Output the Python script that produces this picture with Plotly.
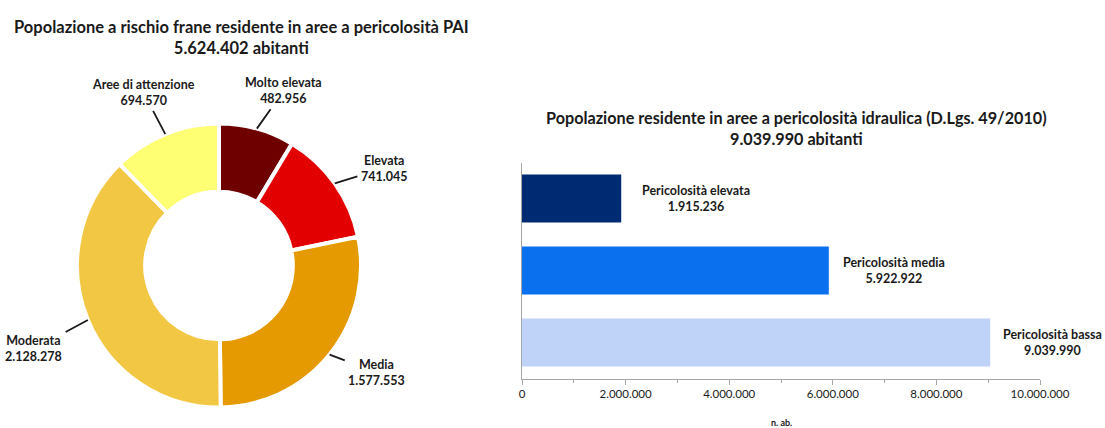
import math
import plotly.graph_objects as go

# ---- data ----
pie_labels = ["Molto elevata", "Elevata", "Media", "Moderata", "Aree di attenzione"]
pie_values = [482956, 741045, 1577553, 2128278, 694570]
pie_colors = ["#6E0000", "#E20000", "#E49A00", "#F2C744", "#FFFF73"]
pie_title = "Popolazione a rischio frane residente in aree a pericolosità PAI<br>5.624.402 abitanti"

bar_labels = ["Pericolosità elevata", "Pericolosità media", "Pericolosità bassa"]
bar_values = [1915236, 5922922, 9039990]
bar_colors = ["#002A72", "#0A70EE", "#BFD3F8"]
bar_title = "Popolazione residente in aree a pericolosità idraulica (D.Lgs. 49/2010)<br>9.039.990 abitanti"
x_tickvals = [0, 2000000, 4000000, 6000000, 8000000, 10000000]
x_title = "n. ab."

W, H = 1105, 428
FONT = "Lato"
TXT = "#1a1a1a"

def fmt(v):
    return f"{v:,}".replace(",", ".")

def px(x):
    return x / W

def py(y):
    return 1 - y / H

# donut geometry (pixels)
CX, CY, R = 219, 265.5, 142

fig = go.Figure()
fig.add_trace(go.Pie(
    labels=pie_labels, values=pie_values, sort=False, direction="clockwise",
    rotation=0, hole=0.52, textinfo="none", hoverinfo="label+value",
    marker=dict(colors=pie_colors, line=dict(color="white", width=4)),
    domain=dict(x=[px(CX - R), px(CX + R)], y=[py(CY + R), py(CY - R)]),
    showlegend=False,
))

fig.add_trace(go.Bar(
    x=bar_values, y=bar_labels, orientation="h",
    marker=dict(color=bar_colors, line=dict(width=0)),
    xaxis="x", yaxis="y", showlegend=False, hoverinfo="x+y",
))

annotations = []
# titles
annotations.append(dict(text="<b>" + pie_title + "</b>", x=px(241), y=py(37), xref="paper", yref="paper",
                        xanchor="center", yanchor="middle",
                        showarrow=False, font=dict(family=FONT, size=16.5, color=TXT), align="center"))
annotations.append(dict(text="<b>" + bar_title + "</b>", x=px(796), y=py(128), xref="paper", yref="paper",
                        xanchor="center", yanchor="middle",
                        showarrow=False, font=dict(family=FONT, size=16.2, color=TXT), align="center"))

# donut labels with leader lines, tips computed from slice mid-angles
offsets = [(27, -38), (49, -15), (47, 18), (-54, 29), (-22, -42)]
total = sum(pie_values)
cum = 0
for lab, val, (ax, ay) in zip(pie_labels, pie_values, offsets):
    mid = (cum + val / 2) / total * 2 * math.pi
    cum += val
    tx = CX + R * math.sin(mid)
    ty = CY - R * math.cos(mid)
    annotations.append(dict(
        text=f"<b>{lab}<br>{fmt(val)}</b>", x=px(tx), y=py(ty), xref="paper", yref="paper",
        showarrow=True, arrowhead=0, arrowwidth=1.8, arrowcolor=TXT, ax=ax, ay=ay,
        standoff=0, startstandoff=2,
        font=dict(family=FONT, size=12.5, color=TXT), align="center",
    ))

# bar labels
bar_shift = [19, 12, 11]
for lab, val, sh in zip(bar_labels, bar_values, bar_shift):
    annotations.append(dict(
        text=f"<b>{lab}<br>{fmt(val)}</b>", x=val, y=lab, xref="x", yref="y",
        xanchor="left", yanchor="middle", xshift=sh, showarrow=False, align="center",
        font=dict(family=FONT, size=12.5, color=TXT),
    ))

annotations.append(dict(text="<b>" + x_title + "</b>", x=px(781), y=py(422), xref="paper", yref="paper",
                        xanchor="center", yanchor="middle",
                        showarrow=False, font=dict(family=FONT, size=9, color=TXT)))

fig.update_layout(
    width=W, height=H, margin=dict(l=0, r=0, t=0, b=0), autosize=False,
    paper_bgcolor="white", plot_bgcolor="white",
    separators=",.",
    bargap=0.33,
    font=dict(family=FONT, color=TXT),
    xaxis=dict(domain=[px(522), px(1040)], range=[0, 10000000], tickvals=x_tickvals,
               tickformat=",d", showgrid=False, zeroline=False, showline=True,
               linecolor="#a6a6a6", linewidth=1, ticks="outside", ticklen=5, tickcolor="#a6a6a6",
               minor=dict(dtick=1000000, ticks="outside", ticklen=3, tickcolor="#a6a6a6"),
               tickfont=dict(family=FONT, size=11.5, color=TXT), anchor="y",
               ticklabelstandoff=0, automargin=False),
    yaxis=dict(domain=[py(378.5), py(162.5)], autorange="reversed", showticklabels=False,
               showgrid=False, zeroline=False, showline=True, linecolor="#a6a6a6",
               linewidth=1, ticks="", anchor="x", automargin=False),
    annotations=annotations,
)
fig.update_xaxes(tickprefix="<b>", ticksuffix="</b>")

fig.write_html(
    "out.html",
    config={"displayModeBar": False},
    post_script=(
        "document.documentElement.style.overflow='hidden';"
        "document.body.style.margin='0';document.body.style.overflow='hidden';"
        "document.querySelectorAll('.main-svg').forEach(function(s){s.style.overflow='hidden';});"
    ),
)
